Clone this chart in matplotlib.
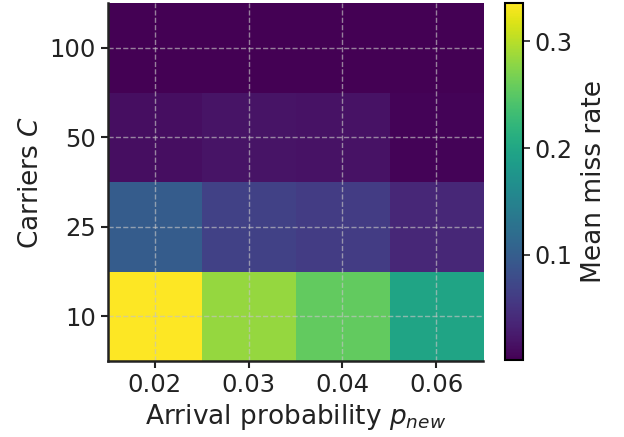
import numpy as np
import matplotlib
matplotlib.use("Agg")
import matplotlib.pyplot as plt

# sweep results: rows = carriers, cols = arrival probability
p_new = ["0.02", "0.03", "0.04", "0.06"]
carriers = ["10", "25", "50", "100"]
miss_c10 = [0.336, 0.283, 0.256, 0.196]
miss_c25 = [0.099, 0.066, 0.061, 0.038]
miss_c50 = [0.014, 0.019, 0.018, 0.004]
miss_c100 = [0.002, 0.002, 0.002, 0.002]

miss = np.array([miss_c10, miss_c25, miss_c50, miss_c100])

fs_tick = 17.5
fs_lab = 19
plt.rcParams['font.family'] = ['DejaVu Sans']

fig = plt.figure(figsize=(6.24, 4.37), dpi=100)
ax = fig.add_axes([0.173, 0.174, 0.601, 0.819])
cax = fig.add_axes([0.809, 0.176, 0.029, 0.817])

im = ax.imshow(miss, origin='lower', cmap='viridis', aspect='auto',
               vmin=0.001, vmax=0.336)

ax.set_xticks(range(len(p_new)))
ax.set_xticklabels(p_new)
ax.set_yticks(range(len(carriers)))
ax.set_yticklabels(carriers)
ax.tick_params(labelsize=fs_tick, length=5, width=1.5, colors='#222222')
ax.grid(True, linestyle='--', color='#c4c4c4', alpha=0.65, linewidth=1)
for side in ['top', 'right']:
    ax.spines[side].set_visible(False)
for side in ['left', 'bottom']:
    ax.spines[side].set_linewidth(1.8)
    ax.spines[side].set_color('#222222')

ax.set_xlabel(r"Arrival probability $p_{new}$", fontsize=fs_lab, color='#222222')
ax.set_ylabel(r"Carriers $C$", fontsize=fs_lab, color='#222222')

cb = fig.colorbar(im, cax=cax, ticks=[0.1, 0.2, 0.3])
cb.ax.tick_params(labelsize=17.2, length=5, width=1.2, colors='#222222')
cb.outline.set_linewidth(1.5)
cb.set_label("Mean miss rate", fontsize=fs_lab, color='#222222', labelpad=6)

fig.savefig("out.png", dpi=100)
